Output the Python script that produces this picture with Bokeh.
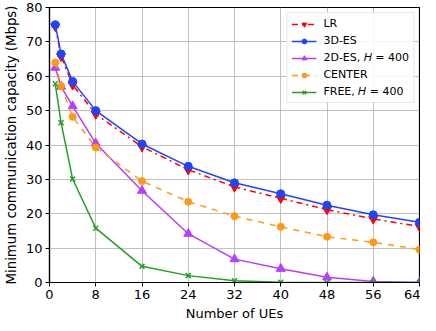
from bokeh.plotting import figure
from bokeh.embed import file_html
from bokeh.resources import INLINE
from bokeh.models import Legend, LegendItem, FixedTicker, Range1d

ues = [1, 2, 4, 8, 16, 24, 32, 40, 48, 56, 64]
lr = [74.5, 65.8, 57.5, 49.0, 39.5, 32.8, 27.8, 24.5, 21.2, 18.5, 16.3]
es3d = [75.0, 66.5, 58.5, 50.0, 40.3, 33.8, 29.0, 25.8, 22.5, 19.7, 17.5]
es2d = [62.5, 57.0, 51.3, 40.5, 26.7, 14.2, 6.8, 4.0, 1.5, 0.3, 0.0]
center = [64.0, 57.2, 48.2, 39.3, 29.5, 23.5, 19.3, 16.2, 13.3, 11.7, 9.6]
free = [57.8, 46.5, 30.1, 15.8, 4.7, 2.0, 0.5, 0.1, 0.0, 0.0, 0.0]
xticks = [0, 8, 16, 24, 32, 40, 48, 56, 64]
yticks = [0, 10, 20, 30, 40, 50, 60, 70, 80]

FONT = "DejaVu Sans"

p = figure(width=420, height=323, output_backend="svg", toolbar_location=None,
           x_range=Range1d(0, 64), y_range=Range1d(0, 80),
           min_border_left=0, min_border_right=1, min_border_top=7, min_border_bottom=0)
p.outline_line_color = "black"
p.outline_line_width = 1.2
p.background_fill_color = "white"

for ax in (p.xaxis[0], p.yaxis[0]):
    ax.major_label_text_font = FONT
    ax.major_label_text_font_size = "13px"
    ax.major_label_text_color = "black"
    ax.axis_label_text_font = FONT
    ax.axis_label_text_font_style = "normal"
    ax.axis_label_text_color = "black"
    ax.axis_line_color = "black"
    ax.axis_line_width = 1.2
    ax.major_tick_line_color = "black"
    ax.major_tick_in = 0
    ax.major_tick_out = 4
    ax.minor_tick_line_color = None

p.xaxis.ticker = FixedTicker(ticks=xticks)
p.yaxis.ticker = FixedTicker(ticks=yticks)
p.xaxis.axis_label = "Number of UEs"
p.yaxis.axis_label = "Minimum communication capacity (Mbps)"
p.xaxis.axis_label_text_font_size = "13px"
p.yaxis.axis_label_text_font_size = "13.3px"
p.xaxis.axis_label_standoff = 4
p.yaxis.axis_label_standoff = 4
p.xaxis.major_label_standoff = 3
p.yaxis.major_label_standoff = 3

p.xgrid.grid_line_color = "#b0b0b0"
p.ygrid.grid_line_color = "#b0b0b0"
p.xgrid.grid_line_width = 1
p.ygrid.grid_line_width = 1
p.xgrid.grid_line_alpha = 0.8
p.ygrid.grid_line_alpha = 0.8

RED = "#ff0000"
BLUE = "#1f45fc"
PURPLE = "#b83dff"
ORANGE = "#ff9915"
GREEN = "#22a022"

l1 = p.line(ues, lr, line_color=RED, line_width=1.5, line_dash="dashdot")
m1 = p.scatter(ues, lr, marker="inverted_triangle", size=9, color=RED)
l2 = p.line(ues, es3d, line_color=BLUE, line_width=1.5)
m2 = p.scatter(ues, es3d, marker="circle", size=8, color=BLUE)
l3 = p.line(ues, es2d, line_color=PURPLE, line_width=1.5)
m3 = p.scatter(ues, es2d, marker="triangle", size=9, color=PURPLE)
l4 = p.line(ues, center, line_color=ORANGE, line_width=1.5, line_dash="dashed")
m4 = p.scatter(ues, center, marker="circle", size=7, color=ORANGE)
l5 = p.line(ues, free, line_color=GREEN, line_width=1.5)
m5 = p.scatter(ues, free, marker="x", size=7, line_color=GREEN, line_width=1.5)

items = [
    LegendItem(label="LR", renderers=[l1, m1]),
    LegendItem(label="3D-ES", renderers=[l2, m2]),
    LegendItem(label="2D-ES, 𝐻 = 400", renderers=[l3, m3]),
    LegendItem(label="CENTER", renderers=[l4, m4]),
    LegendItem(label="FREE, 𝐻 = 400", renderers=[l5, m5]),
]
legend = Legend(items=items, location="top_right")
legend.label_text_font = FONT
legend.label_text_font_size = "11px"
legend.label_text_color = "black"
legend.glyph_width = 25
legend.glyph_height = 12
legend.spacing = 4
legend.padding = 4
legend.margin = 5
legend.label_standoff = 7
legend.border_line_color = "#d0d0d0"
legend.border_line_width = 1
legend.background_fill_alpha = 0.85
p.add_layout(legend)

open("out.html", "w").write(file_html(p, INLINE))
